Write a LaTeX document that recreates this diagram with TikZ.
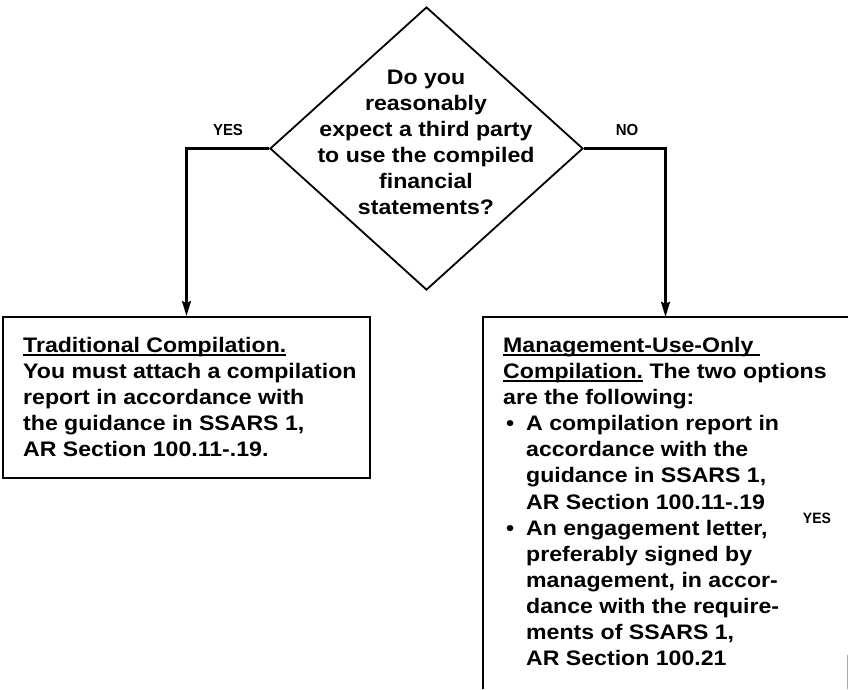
\documentclass[tikz,border=0pt]{standalone}
\usepackage{fontspec}
\setmainfont{Liberation Sans}[FakeStretch=1.1]
\usetikzlibrary{shapes.geometric,arrows.meta}
\newcommand\myul[1]{\setbox0\hbox{#1}\rlap{\rule[-3.2pt]{\wd0}{1.6pt}}\box0}
\tikzset{
  arr/.style={line width=2.2pt,-{Stealth[length=15pt,width=9pt,inset=2pt]}},
  boxline/.style={line width=2pt},
  body/.style={font=\bfseries\fontsize{21}{26.1}\selectfont,inner sep=0pt,align=left},
  lab/.style={font=\bfseries\fontsize{16}{18}\selectfont,inner sep=0pt,xscale=0.85},
}
\begin{document}
\begin{tikzpicture}[x=1pt,y=-1pt]
\useasboundingbox (0,0) rectangle (848,689);
% diamond
\node[draw,line width=1.8pt,diamond,minimum width=313pt,minimum height=283pt,inner sep=0pt] (dia) at (426.5,148.5) {};
\node[body,align=center,anchor=north] (q) at (426,69.5) {Do you\\reasonably\\expect a third party\\to use the compiled\\financial\\statements?};
% labels
\node[lab] (yes1) at (228,130) {YES};
\node[lab] (no1) at (627,130) {NO};
\node[lab,font=\bfseries\fontsize{15}{16}\selectfont] (yes2) at (817,518) {YES};
% left box
\node[draw,boxline,minimum width=367pt,minimum height=161pt,inner sep=0pt] (lbox) at (186.5,397.5) {};
\node[body,anchor=north west] (ltext) at (23,337) {\myul{Traditional Compilation.}\\You must attach a compilation\\report in accordance with\\the guidance in SSARS 1,\\AR Section 100.11-.19.};
% right box (cropped at the bottom)
\node[minimum width=365pt,minimum height=372pt,inner sep=0pt] (rbox) at (665.5,503) {};
\draw[boxline] (rbox.south west) -- (rbox.north west) -- (rbox.north east);
\draw[line width=1pt,black!35] (847,655) -- (847,689);
\node[body,anchor=north west] (rtext) at (503,337) {\myul{Management-Use-Only\ }\\\myul{Compilation.}\ The two options\\are the following:\\
\makebox[23pt][l]{\hspace*{3pt}\textbullet}A compilation report in\\
\hspace*{23pt}accordance with the\\
\hspace*{23pt}guidance in SSARS 1,\\
\hspace*{23pt}AR Section 100.11-.19\\
\makebox[23pt][l]{\hspace*{3pt}\textbullet}An engagement letter,\\
\hspace*{23pt}preferably signed by\\
\hspace*{23pt}management, in accor-\\
\hspace*{23pt}dance with the require-\\
\hspace*{23pt}ments of SSARS 1,\\
\hspace*{23pt}AR Section 100.21};
% connectors
\draw[arr] (dia.west) -| (lbox.north);
\draw[arr] (dia.east) -| (rbox.north);
\end{tikzpicture}
\end{document}
